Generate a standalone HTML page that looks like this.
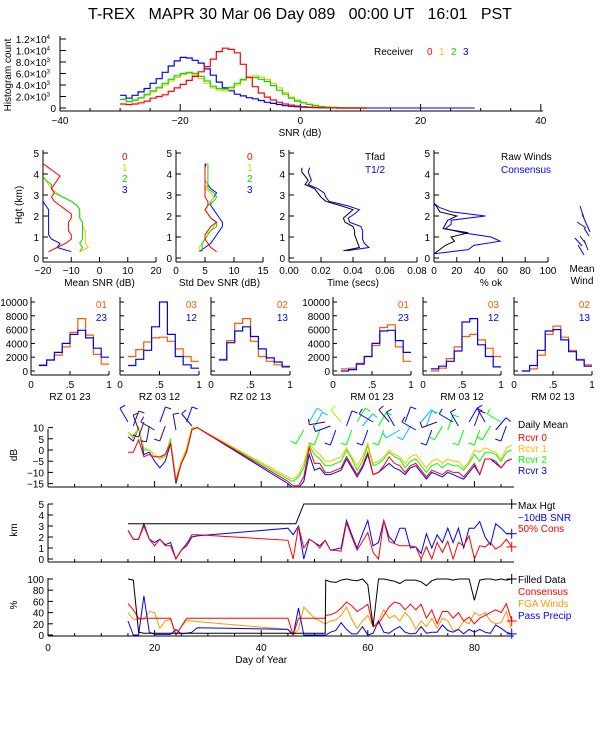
<!DOCTYPE html>
<html><head><meta charset="utf-8"><style>
html,body{margin:0;padding:0;background:#fff}
svg{display:block}
text{font-family:"Liberation Sans",sans-serif;font-size:10px;fill:#000}
</style></head><body>
<svg id="c" width="600" height="750" viewBox="0 0 600 750" xmlns="http://www.w3.org/2000/svg">
<text x="300" y="19" text-anchor="middle" style="font-size:16px;white-space:pre" xml:space="preserve">T-REX   MAPR 30 Mar 06 Day 089   00:00 UT   16:01   PST</text>
</svg>
<script>
// ---------- DATA ----------
const snrStart=-30;
const histRed=[700,600,700,900,1200,1700,2000,2300,2900,3500,4100,4800,5500,6300,7200,8500,9800,10400,10200,9600,7600,5300,3700,2600,1900,1400,1000,700,500,350,250,150,100,60,40,20,0,0,0,0,0];
const histYel=[1500,1100,1300,1700,2200,2800,3400,4000,4700,5300,5800,6000,5700,5100,4300,3500,3100,3000,3300,4000,4800,5400,5600,5400,5000,4300,3500,2700,1900,1400,1000,700,500,300,180,110,70,40,30,30,0];
const histGrn=[1500,1100,1400,1800,2400,3000,3600,4300,5000,5600,6000,6200,6000,5500,4700,3800,3400,3300,3600,4300,5000,5300,5300,5000,4600,3900,3100,2400,1700,1200,900,600,400,250,150,100,60,30,30,30,30];
const histBlu=[2200,1700,2200,2800,3400,4300,5100,6200,7300,8200,8800,8700,8300,7800,6800,5700,4500,3500,3000,2400,2100,1800,1600,1300,1000,800,600,400,300,200,150,100,60,40,20,10,0,0,0,0,0];
const histTicks=[0,2000,4000,6000,8000,10000,12000];
const histTickLabels=["0","2.0×10","4.0×10","6.0×10","8.0×10","1.0×10","1.2×10"];
const histTickExp=["","3","3","3","3","4","4"];

const hgtA=[0.3,0.5,0.7,0.9,1.1,1.3,1.5,1.7,1.9,2.1,2.3,2.5,2.7,2.9,3.1,3.3,3.5,3.7,3.9,4.1,4.3,4.5];
const meanRed=[-18,-15,-12,-10,-10,-11,-11,-11,-10,-10,-12,-14,-16,-17,-16,-17,-16,-15,-14,-16,-18,-20];
const meanYel=[-7,-4,-5,-5,-5,-5,-6,-6,-7,-7,-7,-8,-10,-13,-15,-17,-18,-19,-20];
const meanGrn=[-7,-6,-7,-6,-6,-6,-6,-6,-7,-7,-7,-8,-10,-13,-16,-17,-17,-19,-20];
const meanBlu=[-10,-15,-14,-17,-18,-18,-18,-18,-18,-18,-18,-19,-20,-20];
const sdRed=[7,6,5.5,5,5,5.5,6,7,6,5.5,5,5.5,5.5,5,5,5,5,5,5,5,5,5];
const sdYel=[4,4,4.5,5,5,6,6.5,7,6,5.5,5,5.5,6,6.5,6,5,5.5,5,5,5,5,5];
const sdGrn=[4.5,4.5,4.5,5,5.5,6,7,7,6,5.5,5,5.5,6.5,7,6.5,5.5,5.5,5.5,5.5,5.5,5.5,5.5];
const sdBlu=[4,5,6,6.5,7,7.5,8,8,7.5,7,6.5,6,6,6.5,7,6,5.5,5,5,5,5,5.2];
const hgtT=[0.35,0.5,0.7,0.9,1.1,1.3,1.5,1.7,1.9,2.1,2.3,2.5,2.7,2.9,3.1,3.3,3.5,3.7,3.9,4.1,4.3];
const tfad=[0.034,0.044,0.043,0.042,0.041,0.041,0.04,0.035,0.034,0.037,0.04,0.032,0.023,0.02,0.018,0.016,0.01,0.012,0.01,0.008,0.008];
const thalf=[0.036,0.05,0.047,0.046,0.046,0.046,0.045,0.038,0.037,0.041,0.044,0.036,0.025,0.023,0.022,0.018,0.012,0.014,0.013,0.012,0.013];
const hgtOk=[0.2,0.4,0.6,0.8,1.0,1.2,1.4,1.6,1.8,2.0,2.2,2.4,2.6,2.7,3.0,4.0,5.0];
const okRaw=[0,5,10,18,15,30,8,10,12,20,5,3,0,0,0,0,0];
const okCons=[0,30,35,58,50,25,10,15,15,45,15,5,0,0,0,0,0];

const binEdgesStart=0.1, binW=0.1;
const rz0123o=[900,1600,2300,3500,5600,7600,5200,2400,1000];
const rz0123b=[800,1600,2700,4000,5300,5900,4800,3300,2000];
const rz0312o=[2100,3100,4200,4800,4900,4300,3200,2100,1400];
const rz0312b=[800,1700,3000,6400,10000,5300,2100,900,400];
const rz0213o=[1700,4400,6900,7600,4300,2100,1400,900,700];
const rz0213b=[1600,4100,5800,6400,5000,3200,1900,1300,600];
const rm0123o=[300,400,1100,2100,3700,6300,6700,3500,1400];
const rm0123b=[0,200,1000,2100,4000,5800,5900,4400,2700];
const rm0312o=[0,400,1800,3500,5000,5300,4500,3300,2100];
const rm0312b=[300,700,1400,2900,7100,7600,3800,2100,600];
const rm0213o=[0,300,2300,5300,6500,4900,3000,1700,900];
const rm0213b=[0,800,3000,5800,6000,4500,2800,1600,700];
const histRowTicks=[0,2000,4000,6000,8000,10000];

const daysA=[15,16,17,18,19,20,21,22,23,24,25,26,27,28,45,46,47,48,49,50,51,52,53,54,55,56,57,58,59,60,61,62,63,64,65,66,67,68,69,70,71,72,73,74,75,76,77,78,79,80,81,82,83,84,85,86,87];
const dbRed=[-1,-1,4.5,-3,-2,-3,-3,-2,3,-14,-6,-1,9,10,-14,-16,-16,-12,1,-6,-6,-10,-10,-9,-8,-3,-7,-11,-7,-1,-11,-10,-7,-3,-6,-7,-10,-7,-6,-9,-12,-9,-10,-11,-9,-10,-10,-12,-9,-6,-11,-4,-4,-5,-8,-5,-4];
const dbYel=[8,5,10,1,0,-2,-4,-3,4,-13,-5,1,10,10,-12,-13,-11,-6,3,0,-2,-5,-5,-4,-3,1,-3,-7,-3,3,-6,-5,-3,0,-2,-3,-6,-3,-2,-5,-8,-5,-4,-6,-4,-5,-5,-8,-5,0,-1,1,0,-1,-4,1,2];
const dbGrn=[8,6,10,0,0,-2,-4,-2,5,-14,-6,0,10,10,-13,-14,-12,-8,2,-2,-4,-7,-7,-6,-5,0,-4,-9,-5,2,-7,-6,-4,-1,-3,-4,-8,-5,-4,-7,-10,-7,-6,-8,-6,-7,-7,-9,-6,-2,-5,-1,-1,-2,-5,-1,0];
const dbBlu=[6,4,10,-2,-1,-5,-8,-5,3,-15,-6,-1,9,10,-15,-17,-17,-14,-2,-9,-8,-11,-11,-10,-9,-4,-8,-12,-8,-2,-11,-10,-8,-6,-8,-9,-11,-8,-7,-10,-13,-10,-11,-12,-10,-11,-12,-13,-10,-7,-11,-4,-4,-6,-8,-5,-4];
const maxDays=[15,46.5,48,87];
const maxHgt=[3.2,3.2,5,5];
const kmBlu=[2.6,1.8,1.8,3.2,1.8,1.5,1.8,1.3,1.5,0,0.8,1.2,2,2.1,2.8,2.2,3.0,0,1.8,1.5,1.2,1.7,0.8,0.9,1,3.5,2.2,1,2.3,3.5,1.2,1.5,3.5,2,1.5,2.8,2.8,1,1.1,0.5,2.3,1,2.2,1.5,2.8,1.5,2.8,1,2.8,2.8,3.4,2,1.3,3.2,2.8,2.3,2.3];
const kmRed=[2.6,1.8,1.8,3,1.8,1.2,1.8,1.2,1.2,0,0.8,1.4,2.2,2.2,1.7,0,3,1,1.8,1.5,1.0,1.7,0.8,0.8,0.7,3.3,2,0.8,1.6,2.4,0.6,0,3.5,1.6,1.4,1.2,1.2,1.2,1.1,0,1.1,0,1.5,0.6,1.6,0,1.5,1.2,2.1,0,1.2,1.1,1.5,0.9,1.2,1.8,1.1];
const daysC=[15,16,17,18,19,20,21,22,23,24,25,26,27,28,45,46,47,48,49,50,51,52,52.1,53,54,55,56,57,58,59,60,61,62,63,64,65,66,67,68,69,70,71,72,73,74,75,76,77,78,79,80,81,82,83,84,85,86,87];
const pctFill=[100,98,5,3,3,3,3,3,3,3,3,3,3,3,3,3,3,3,3,3,3,3,98,95,94,98,100,98,97,100,90,15,100,100,98,96,92,98,98,98,95,88,97,100,100,100,98,100,100,100,62,98,100,100,98,100,98,100];
const pctCons=[56,45,30,30,30,30,30,30,30,0,15,30,30,30,30,0,30,30,30,30,30,30,35,36,40,48,59,52,42,48,55,15,20,35,50,59,56,45,55,45,55,30,45,20,42,42,30,40,25,32,20,30,35,40,45,40,56,25];
const pctFga=[40,28,28,28,42,40,12,25,28,0,15,26,25,24,10,0,10,50,40,30,25,20,20,25,27,35,50,28,12,25,35,15,25,45,30,35,25,40,30,10,25,15,30,12,30,25,8,10,25,20,40,35,40,25,20,22,42,8];
const pctPrec=[25,0,0,70,5,1,1,1,1,10,2,3,5,13,10,0,48,0,0,0,0,0,0,5,8,22,10,2,2,15,0,3,25,5,3,10,15,5,2,3,15,3,5,5,18,8,5,10,2,10,5,10,5,3,18,12,5,2];
const windDays=[15,16,17,18,19,20,21,22,24,26,27,48,49,50,51,52,53,54,55,56,57,58,59,60,61,62,63,64,65,66,67,68,69,70,71,72,73,74,75,76,77,78,79,80,81,82,83,84,85,86];
const windDir=[330,20,340,200,190,300,20,200,350,20,320,210,30,30,200,260,250,200,320,20,200,30,40,200,300,30,200,320,330,240,20,210,300,40,20,200,250,210,20,300,330,200,30,20,200,330,210,40,300,200];
const windCol=["#0000ff","#3b0a5a","#3b0a5a","#3b0a5a","#3b0a5a","#3b0a5a","#0000ff","#3b0a5a","#3b0a5a","#0000ff","#0000ff","#00ff00","#00c0ff","#00c0ff","#00ff00","#3b0a5a","#0000ff","#0000ff","#a0ff00","#0000ff","#00ff00","#00ff00","#00c0ff","#0000ff","#0000ff","#00ff00","#00ff00","#3b0a5a","#0000ff","#00c0ff","#0000ff","#00c0ff","#0000ff","#00c0ff","#00c0ff","#0000ff","#3b0a5a","#00ff00","#00ff00","#0000ff","#0000ff","#00ff00","#0000ff","#3b0a5a","#00ff00","#0000ff","#00ff00","#0000ff","#00ff00","#0000ff"];

// ---------- HELPERS ----------
const svg=document.getElementById('c');
const NS='http://www.w3.org/2000/svg';
function mk(tag,name){const el=document.createElementNS(NS,tag);


svg.appendChild(el);return el;}
function line(x1,y1,x2,y2,name,col){const l=mk('line',name);l.setAttribute('x1',x1);l.setAttribute('y1',y1);l.setAttribute('x2',x2);l.setAttribute('y2',y2);l.setAttribute('stroke',col||'#000');l.setAttribute('stroke-width',1);return l;}
function txt(x,y,s,name,anchor,col,size){const t=mk('text',name);t.setAttribute('x',x);t.setAttribute('y',y);if(anchor)t.setAttribute('text-anchor',anchor);if(col)t.setAttribute('style','fill:'+col+(size?';font-size:'+size+'px':''));else if(size)t.setAttribute('style','font-size:'+size+'px');t.textContent=s;return t;}
function poly(xs,ys,sx,sy,col,name,clip){const p=mk('polyline',name);let pts=[];for(let i=0;i<Math.min(xs.length,ys.length);i++){pts.push(sx(xs[i]).toFixed(1)+','+sy(ys[i]).toFixed(1));}p.setAttribute('points',pts.join(' '));p.setAttribute('fill','none');p.setAttribute('stroke',col);p.setAttribute('stroke-width',1);if(clip)p.setAttribute('clip-path','url(#'+clip+')');return p;}
function step(start,w,vals,sx,sy,col,name){const p=mk('polyline',name);let pts=[];for(let i=0;i<vals.length;i++){const a=start+i*w,b=a+w;pts.push(sx(a).toFixed(1)+','+sy(vals[i]).toFixed(1));pts.push(sx(b).toFixed(1)+','+sy(vals[i]).toFixed(1));}p.setAttribute('points',pts.join(' '));p.setAttribute('fill','none');p.setAttribute('stroke',col);p.setAttribute('stroke-width',1.2);return p;}
function clip(id,x,y,w,h){const d=document.createElementNS(NS,'clipPath');d.setAttribute('id',id);const r=document.createElementNS(NS,'rect');r.setAttribute('x',x);r.setAttribute('y',y);r.setAttribute('width',w);r.setAttribute('height',h);d.appendChild(r);svg.appendChild(d);}
function rot(x,y,s,name){const t=txt(x,y,s,name,'middle');t.setAttribute('transform','rotate(-90 '+x+' '+y+')');return t;}

// ---------- TOP HISTOGRAM ----------
{const sx=v=>60+(v+40)*6.01, sy=v=>108-v*0.00575;
line(60,36,60,111,'hist-y-axis');line(60,111,543,111,'hist-x-axis');
histTicks.forEach((t,i)=>{line(60,sy(t),66,sy(t),'hist-y-tick');const tt=txt(56,sy(t)+4,histTickLabels[i],'hist-y-label','end');if(histTickExp[i]){const sp=document.createElementNS(NS,'tspan');sp.setAttribute('dy','-4');sp.setAttribute('style','font-size:6px');sp.textContent=histTickExp[i];tt.appendChild(sp);tt.setAttribute('x',50);}});
for(let v=-40;v<=40;v+=5){line(sx(v),111,sx(v),v%20===0?104:108,'hist-x-tick');}
[-40,-20,0,20,40].forEach(v=>txt(sx(v),124,String(v).replace('-','−'),'hist-x-label','middle'));
txt(300,136,'SNR (dB)','hist-x-title','middle');
rot(11,75,'Histogram count','hist-y-title');
step(snrStart,1,histBlu,sx,sy,'#0000ff','hist-rcvr3');
line(sx(11),sy(0),sx(29),sy(0),'hist-rcvr3-tail','#0000ff');
step(snrStart,1,histYel,sx,sy,'#ffc000','hist-rcvr1');
step(snrStart,1,histGrn,sx,sy,'#00e000','hist-rcvr2');
step(snrStart,1,histRed,sx,sy,'#ff0000','hist-rcvr0');
txt(374,55,'Receiver','legend-receiver');
txt(427,55,'0','legend-0',null,'#ff0000');txt(439,55,'1','legend-1',null,'#ffc000');txt(451,55,'2','legend-2',null,'#00e000');txt(463,55,'3','legend-3',null,'#0000ff');}

// ---------- PROFILE PANELS ----------
function profPanel(x0,x1,xmin,xmax,ticks,tickLbl,title,key){
 const sx=v=>x0+(v-xmin)/(xmax-xmin)*(x1-x0), sy=h=>258-h*21;
 line(x0,150,x0,262,key+'-y-axis');line(x0,262,x1,262,key+'-x-axis');
 for(let h=0;h<=5;h++){line(x0,sy(h),x0+5,sy(h),key+'-y-tick');txt(x0-4,sy(h)+4,String(h),key+'-y-label','end');}
 ticks.forEach((t,i)=>{line(sx(t),262,sx(t),257,key+'-x-tick');txt(sx(t),274,tickLbl[i],key+'-x-label','middle');});
 txt((x0+x1)/2,286,title,key+'-x-title','middle');
 return [sx,sy];}
{const [sx,sy]=profPanel(43,156,-20,20,[-20,-10,0,10,20],['−20','−10','0','10','20'],'Mean SNR (dB)','mean-snr');
clip('cpm',43,140,113,122);
poly(meanBlu,hgtA,sx,sy,'#0000ff','mean-snr-rcvr3','cpm');poly(meanYel,hgtA,sx,sy,'#ffc000','mean-snr-rcvr1','cpm');poly(meanGrn,hgtA,sx,sy,'#00e000','mean-snr-rcvr2','cpm');poly(meanRed,hgtA,sx,sy,'#ff0000','mean-snr-rcvr0','cpm');
txt(122,160,'0','mean-legend-0',null,'#ff0000');txt(122,171,'1','mean-legend-1',null,'#ffc000');txt(122,182,'2','mean-legend-2',null,'#00e000');txt(122,193,'3','mean-legend-3',null,'#0000ff');
rot(22,205,'Hgt (km)','hgt-y-title');}
{const [sx,sy]=profPanel(176,263,0,15,[0,5,10,15],['0','5','10','15'],'Std Dev SNR (dB)','std-snr');
poly(sdBlu,hgtA,sx,sy,'#0000ff','std-rcvr3');poly(sdYel,hgtA,sx,sy,'#ffc000','std-rcvr1');poly(sdGrn,hgtA,sx,sy,'#00e000','std-rcvr2');poly(sdRed,hgtA,sx,sy,'#ff0000','std-rcvr0');
txt(247,160,'0','std-legend-0',null,'#ff0000');txt(247,171,'1','std-legend-1',null,'#ffc000');txt(247,182,'2','std-legend-2',null,'#00e000');txt(247,193,'3','std-legend-3',null,'#0000ff');}
{const [sx,sy]=profPanel(289,417,0,0.08,[0,0.02,0.04,0.06,0.08],['0.00','0.02','0.04','0.06','0.08'],'Time (secs)','time');
poly(thalf,hgtT,sx,sy,'#0000ff','time-t-half');poly(tfad,hgtT,sx,sy,'#000','time-tfad');
txt(365,160,'Tfad','time-legend-tfad');txt(365,173,'T1/2','time-legend-thalf',null,'#0000ff');}
{const [sx,sy]=profPanel(434,548,0,100,[0,20,40,60,80,100],['0','20','40','60','80','100'],'% ok','pct-ok');
poly(okCons,hgtOk,sx,sy,'#0000ff','pct-ok-consensus');poly(okRaw,hgtOk,sx,sy,'#000','pct-ok-raw');
txt(501,160,'Raw Winds','pct-legend-raw');txt(501,173,'Consensus','pct-legend-cons',null,'#0000ff');}
// mean wind column
{const mw=[[580,206,584,218,'#0000ff'],[582,214,590,232,'#0000ff'],[577,222,586,228,'#3b0a5a'],[584,228,589,236,'#0000ff'],[580,236,586,244,'#3b0a5a'],[578,245,584,255,'#0000ff'],[584,240,588,250,'#3b0a5a'],[575,238,582,246,'#0000ff']];
mw.forEach(m=>line(m[0],m[1],m[2],m[3],'mean-wind-barb',m[4]));
txt(582,272,'Mean','mean-wind-label','middle');txt(582,284,'Wind','mean-wind-label2','middle');}

// ---------- CORRELATION HISTOGRAMS ----------
function corrPanel(x0,x1,oVals,bVals,lbl,l1,l2,showY,key){
 const sx=v=>x0+v*(x1-x0), sy=v=>371-v*0.0069;
 line(x0,297,x0,375,key+'-y-axis');line(x0,375,x1,375,key+'-x-axis');
 histRowTicks.forEach(t=>{line(x0,sy(t),x0+4,sy(t),key+'-y-tick');if(showY)txt(x0-3,sy(t)+4,String(t),key+'-y-label','end');});
 [[0,'0'],[0.5,'.5'],[1,'1']].forEach(t=>{line(sx(t[0]),375,sx(t[0]),371,key+'-x-tick');txt(sx(t[0]),388,t[1],key+'-x-label','middle');});
 txt((x0+x1)/2,400,lbl,key+'-title','middle');
 step(binEdgesStart,binW,oVals,sx,sy,'#ff5a00',key+'-orange');
 step(binEdgesStart,binW,bVals,sx,sy,'#0000ff',key+'-blue');
 txt(x1-2,308,l1,key+'-legend-1','end','#ff5a00');txt(x1-2,321,l2,key+'-legend-2','end','#0000ff');}
corrPanel(31,109,rz0123o,rz0123b,'RZ  01 23','01','23',true,'rz-01-23');
corrPanel(120,199,rz0312o,rz0312b,'RZ  03 12','03','12',false,'rz-03-12');
corrPanel(211,290,rz0213o,rz0213b,'RZ  02 13','02','13',false,'rz-02-13');
corrPanel(333,411,rm0123o,rm0123b,'RM  01 23','01','23',true,'rm-01-23');
corrPanel(423,501,rm0312o,rm0312b,'RM  03 12','03','12',false,'rm-03-12');
corrPanel(514,592,rm0213o,rm0213b,'RM  02 13','02','13',false,'rm-02-13');

// ---------- TIME SERIES ----------
const dx=d=>48+d*5.33;
function tsAxis(yb,ticks,sy,lbls,key,title,ty){
 line(48,yb-58,48,yb,key+'-y-axis');line(48,yb,514,yb,key+'-x-axis');
 ticks.forEach((t,i)=>{line(48,sy(t),53,sy(t),key+'-y-tick');txt(44,sy(t)+4,lbls[i],key+'-y-label','end');});
 for(let d=0;d<=85;d+=5)line(dx(d),yb,dx(d),yb-(d%20===0?6:3),key+'-x-tick');
 rot(17,ty,title,key+'-y-title');}
{const sy=v=>450-v*2.24;
tsAxis(487,[10,5,0,-5,-10,-15],sy,['10','5','0','−5','−10','−15'],'db',' dB',455);
clip('cpa',48,400,470,87);
poly(daysA,dbBlu,dx,sy,'#0000ff','db-rcvr3','cpa');poly(daysA,dbGrn,dx,sy,'#00ff00','db-rcvr2','cpa');poly(daysA,dbYel,dx,sy,'#ffc000','db-rcvr1','cpa');poly(daysA,dbRed,dx,sy,'#ff0000','db-rcvr0','cpa');
windDays.forEach((d,i)=>{const a=windDir[i]*Math.PI/180,x=dx(d),y=422+(i%3)*4,L=16;
 line(x,y,x+Math.sin(a)*L,y-Math.cos(a)*L,'wind-barb',windCol[i]);
 line(x+Math.sin(a)*L,y-Math.cos(a)*L,x+Math.sin(a)*L+Math.cos(a)*6,y-Math.cos(a)*L+Math.sin(a)*6,'wind-barb-flag',windCol[i]);});
txt(518,428,'Daily Mean','legend-daily-mean');txt(518,441,'Rcvr 0','legend-rcvr0',null,'#ff0000');txt(518,452,'Rcvr 1','legend-rcvr1',null,'#ffc000');txt(518,463,'Rcvr 2','legend-rcvr2',null,'#00ff00');txt(518,474,'Rcvr 3','legend-rcvr3',null,'#0000ff');}
{const sy=v=>559-v*11;
tsAxis(562,[5,4,3,2,1,0],sy,['5','4','3','2','1','0'],'km','km',530);
poly(maxDays,maxHgt,dx,sy,'#000','max-hgt');
poly(daysA,kmBlu,dx,sy,'#0000ff','km-10db-snr');poly(daysA,kmRed,dx,sy,'#ff0000','km-50pct-cons');
const e=daysA.length-1;
[[maxHgt[maxHgt.length-1],'#000'],[kmBlu[e],'#0000ff'],[kmRed[e],'#ff0000']].forEach(p=>{line(dx(87)-5,sy(p[0]),dx(87)+5,sy(p[0]),'end-marker',p[1]);line(dx(87),sy(p[0])-5,dx(87),sy(p[0])+5,'end-marker',p[1]);});
txt(518,509,'Max Hgt','legend-max-hgt');txt(518,521,'−10dB SNR','legend-10db',null,'#0000ff');txt(518,532,'50% Cons','legend-50cons',null,'#ff0000');}
{const sy=v=>635-v*0.56;
tsAxis(636,[100,80,60,40,20,0],sy,['100','80','60','40','20','0'],'pct','%',605);
[0,20,40,60,80].forEach(d=>txt(dx(d),651,String(d),'day-x-label','middle'));
txt(dx(40),663,'Day of Year','day-x-title','middle');
poly(daysC,pctFga,dx,sy,'#ff9900','pct-fga');poly(daysC,pctPrec,dx,sy,'#0000ff','pct-precip');poly(daysC,pctCons,dx,sy,'#ff0000','pct-consensus');poly(daysC,pctFill,dx,sy,'#000','pct-filled');
const e=daysC.length-1;
[[pctFill[e],'#000'],[pctCons[e],'#ff0000'],[pctPrec[e],'#0000ff']].forEach(p=>{line(dx(87)-5,sy(p[0]),dx(87)+5,sy(p[0]),'end-marker',p[1]);line(dx(87),sy(p[0])-5,dx(87),sy(p[0])+5,'end-marker',p[1]);});
txt(518,583,'Filled Data','legend-filled');txt(518,595,'Consensus','legend-consensus',null,'#ff0000');txt(518,607,'FGA Winds','legend-fga',null,'#ff9900');txt(518,619,'Pass Precip','legend-precip',null,'#0000ff');}
</script>
</body></html>
